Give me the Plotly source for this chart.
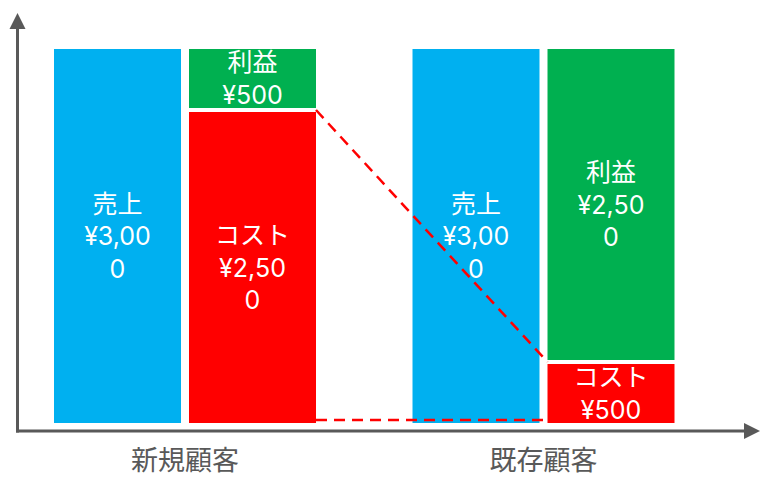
import plotly.graph_objects as go

# --- data -------------------------------------------------------------
categories = ["新規顧客", "既存顧客"]
sales = [3000, 3000]
cost = [2500, 500]
profit = [500, 2500]
sales_name = "売上"
cost_name = "コスト"
profit_name = "利益"

# --- styling / layout constants ----------------------------------------
BLUE = "#00B0F0"
RED = "#FF0000"
GREEN = "#00B050"
GRAY = "#595959"
BAR_FONT = "Inter, 'Noto Sans CJK JP', sans-serif"
AXIS_FONT = "'Noto Sans CJK JP', sans-serif"
BAR_SIZE = 25
AXIS_SIZE = 27

W, H = 760, 479
ML, MR, MT, MB = 18, 3, 10, 48
PLOT_W = W - ML - MR
PLOT_H = H - MT - MB
CAT_PX = 358.5            # pixels between category centres
BAR_PX = 127              # visible bar width
GAP_PX = 4                # white separation drawn by the bar outline
LEFT_BAR_START = -131     # left bar start, relative to the category centre (px)
RIGHT_BAR_START = 4       # right bar start, relative to the category centre (px)

px = 1.0 / CAT_PX
bar_w = (BAR_PX + GAP_PX) * px
left_off = (LEFT_BAR_START - GAP_PX / 2) * px
right_off = (RIGHT_BAR_START - GAP_PX / 2) * px

# category 0 centre sits at x = 185 px in the page
x_lo = -(185 - ML) / CAT_PX
x_hi = x_lo + PLOT_W / CAT_PX

# value axis: zero sits 6 px above the plot bottom, 3000 reaches 49 px from top
unit_px = (425 - 47) / 3000.0
y_lo = -(MT + PLOT_H - 425) / unit_px
y_hi = 3000 + (47 - MT) / unit_px


def money(v):
    s = f"¥{v:,}"
    # break long amounts after five characters
    return "<br>".join(s[i:i + 5] for i in range(0, len(s), 5))


def labels(name, values):
    return [f"{name}<br>{money(v)}" for v in values]


xs = list(range(len(categories)))
common = dict(
    width=bar_w,
    textposition="inside",
    insidetextanchor="middle",
    textangle=0,
    constraintext="none",
    textfont=dict(family=BAR_FONT, size=BAR_SIZE, color="white"),
    hoverinfo="skip",
    showlegend=False,
)

fig = go.Figure()
fig.add_trace(go.Bar(
    x=xs, y=sales, base=[0] * len(sales), offset=left_off,
    marker=dict(color=BLUE, line=dict(color="white", width=GAP_PX)),
    text=labels(sales_name, sales), **common))
fig.add_trace(go.Bar(
    x=xs, y=cost, base=[0] * len(cost), offset=right_off,
    marker=dict(color=RED, line=dict(color="white", width=GAP_PX)),
    text=labels(cost_name, cost), **common))
fig.add_trace(go.Bar(
    x=xs, y=profit, base=cost, offset=right_off,
    marker=dict(color=GREEN, line=dict(color="white", width=GAP_PX)),
    text=labels(profit_name, profit), **common))

# dashed connectors between the two cost bars
x_from = xs[0] + (RIGHT_BAR_START + BAR_PX) * px
x_to = xs[1] + RIGHT_BAR_START * px
dash = dict(color=RED, width=2.5, dash="11px,7px")
shapes = [
    dict(type="line", xref="x", yref="y", x0=x_from, x1=x_to,
         y0=cost[0], y1=cost[1], line=dash, layer="above"),
    dict(type="line", xref="x", yref="y", ysizemode="pixel", yanchor=0,
         x0=x_from, x1=x_to, y0=5, y1=5, line=dash, layer="above"),
]

# axis lines with arrow heads
axis_line = dict(color=GRAY, width=3)
shapes += [
    dict(type="line", xref="paper", yref="paper", xsizemode="pixel", ysizemode="pixel",
         xanchor=0, yanchor=0, x0=-0.5, x1=-0.5, y0=-1.5, y1=404, line=axis_line),
    dict(type="path", xref="paper", yref="paper", xsizemode="pixel", ysizemode="pixel",
         xanchor=0, yanchor=0, path="M -8.5,402 L 7.5,402 L -0.5,418 Z",
         fillcolor=GRAY, line=dict(width=0)),
    dict(type="line", xref="paper", yref="paper", xsizemode="pixel", ysizemode="pixel",
         xanchor=0, yanchor=0, x0=-2, x1=727, y0=0, y1=0, line=axis_line),
    dict(type="path", xref="paper", yref="paper", xsizemode="pixel", ysizemode="pixel",
         xanchor=0, yanchor=0, path="M 726,8 L 726,-8 L 742,0 Z",
         fillcolor=GRAY, line=dict(width=0)),
]

fig.update_layout(
    width=W, height=H,
    margin=dict(l=ML, r=MR, t=MT, b=MB, pad=0, autoexpand=False),
    paper_bgcolor="white", plot_bgcolor="white",
    barmode="overlay",
    shapes=shapes,
    xaxis=dict(range=[x_lo, x_hi], tickvals=xs, ticktext=categories,
               showgrid=False, zeroline=False, showline=False, ticks="",
               automargin=False, ticklabelstandoff=11,
               tickfont=dict(family=AXIS_FONT, size=AXIS_SIZE, color=GRAY),
               fixedrange=True),
    yaxis=dict(range=[y_lo, y_hi], showgrid=False, zeroline=False, showline=False,
               showticklabels=False, ticks="", automargin=False, fixedrange=True),
)

fig.write_html("out.html")
